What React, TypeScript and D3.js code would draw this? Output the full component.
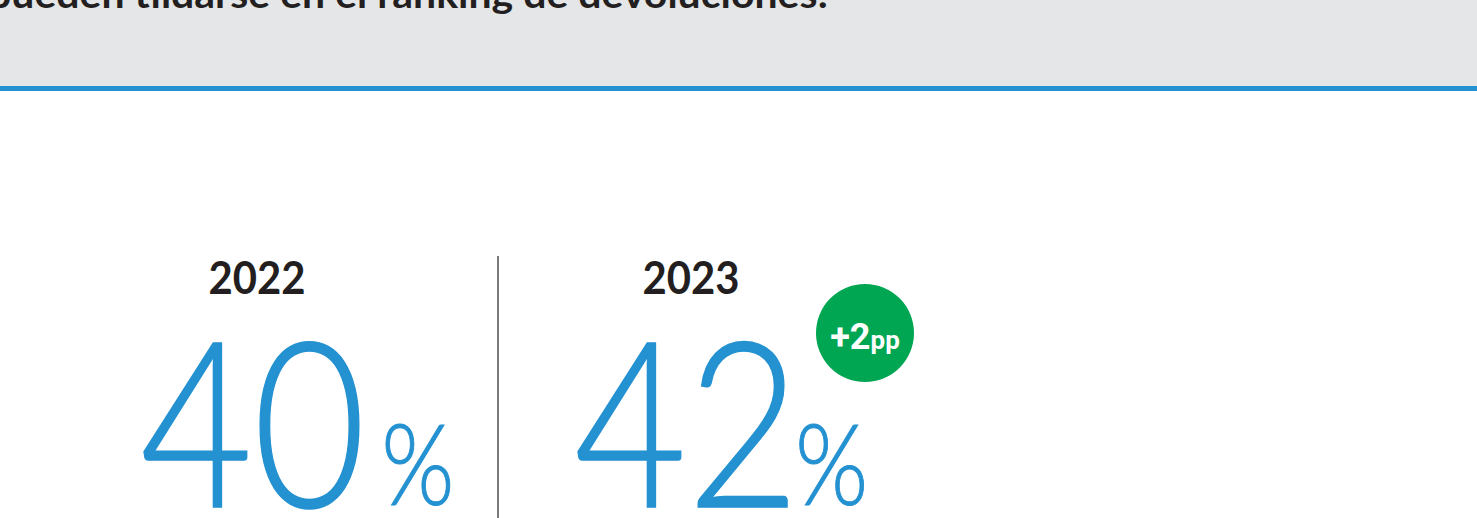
import { scaleBand } from 'd3';

const years = ['2022', '2023'];
const shares = [40, 42];
const deltaLabel = ['+2', 'pp'];
const titleText = 'pueden tildarse en el ranking de devoluciones:';

const W = 1477;
const H = 518;

// Lato's "2" carries a wide right side bearing; pull the % sign in after it
const pctKern: Record<string, number> = { '0': 18, '2': -6 };

const App = () => {
  const x = scaleBand<string>().domain(years).range([40, 908]).padding(0);
  const step = x.step();
  const c = (y: string) => (x(y) ?? 0) + step / 2;
  const last = years[years.length - 1];

  return (
    <svg width={W} height={H} style={{ position: 'absolute', left: 0, top: 0 }}>
      <rect x={0} y={0} width={W} height={86} fill='#e5e6e8' />
      <rect x={0} y={86} width={W} height={5} fill='#2491d1' />
      <text x={-12} y={8} fontFamily='Lato, sans-serif' fontWeight={700} fontSize={38} fill='#231f20'
        textLength={840} lengthAdjust='spacingAndGlyphs'>
        {titleText}
      </text>

      <line x1={498} x2={498} y1={256} y2={H} stroke='#231f20' strokeWidth={1.2} />

      {years.map((y, i) => {
        const label = String(shares[i]);
        return (
          <g key={y}>
            <text x={c(y)} y={294} textAnchor='middle' fontFamily='Lato, sans-serif' fontWeight={700} fontSize={46}
              fill='#231f20' textLength={97} lengthAdjust='spacingAndGlyphs'>
              {y}
            </text>
            <g transform={`translate(${c(y) - 117},507) scale(0.84,1)`}>
              <text x={0} y={0} fontFamily='Lato, sans-serif' fontWeight={300} fontSize={232} fill='#2491d1'
                stroke='#2491d1' strokeWidth={1.5}>
                {label}
                <tspan fontSize={112} dx={pctKern[label.slice(-1)] ?? 10} dy={-2} strokeWidth={1}>%</tspan>
              </text>
            </g>
          </g>
        );
      })}

      <circle cx={c(last) + 174} cy={333} r={49} fill='#00a651' />
      <text x={c(last) + 174} y={349} textAnchor='middle' fontFamily='Roboto, sans-serif' fontWeight={700} fill='#fff'>
        <tspan fontSize={36}>{deltaLabel[0]}</tspan>
        <tspan fontSize={26}>{deltaLabel[1]}</tspan>
      </text>
    </svg>
  );
};

export default App;
